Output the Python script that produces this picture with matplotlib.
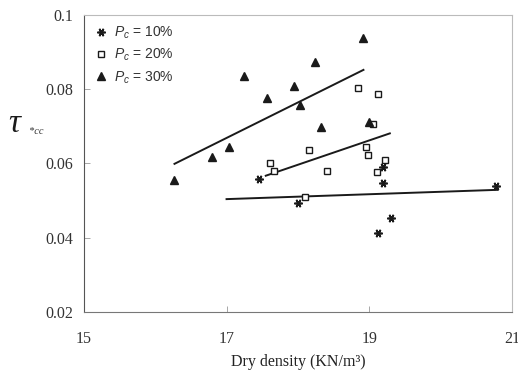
import matplotlib

matplotlib.use("Agg")
import matplotlib.pyplot as plt

# ── data ────────────────────────────────────────────────────────────────────
# Pc = 10 %
dens_10 = [17.46, 18.00, 19.12, 19.20, 19.20, 19.31, 20.78]
tau_10 = [0.0558, 0.0493, 0.0412, 0.0591, 0.0547, 0.0452, 0.0539]
trend_x_10 = [17.00, 20.80]
trend_y_10 = [0.0504, 0.0529]

# Pc = 20 %
dens_20 = [17.61, 17.66, 18.10, 18.16, 18.41, 18.85, 18.95, 18.99,
           19.06, 19.11, 19.13, 19.22]
tau_20 = [0.0602, 0.0579, 0.0509, 0.0636, 0.0580, 0.0802, 0.0643, 0.0623,
          0.0706, 0.0577, 0.0788, 0.0609]
trend_x_20 = [17.55, 19.29]
trend_y_20 = [0.0567, 0.0681]

# Pc = 30 %
dens_30 = [16.27, 16.79, 17.04, 17.24, 17.57, 17.94, 18.03, 18.24,
           18.33, 18.91, 19.00]
tau_30 = [0.0556, 0.0618, 0.0644, 0.0836, 0.0777, 0.0809, 0.0758, 0.0872,
          0.0698, 0.0937, 0.0711]
trend_x_30 = [16.27, 18.92]
trend_y_30 = [0.0599, 0.0852]

x_ticks = [15, 17, 19, 21]
y_ticks = [0.02, 0.04, 0.06, 0.08, 0.1]
y_tick_labels = ["0.02", "0.04", "0.06", "0.08", "0.1"]

# ── style ───────────────────────────────────────────────────────────────────
plt.rcParams["mathtext.fontset"] = "custom"
plt.rcParams["mathtext.rm"] = "Liberation Sans"
plt.rcParams["mathtext.it"] = "Liberation Sans:italic"
SERIF = "Liberation Serif"
INK = "#1a1a1a"

fig = plt.figure(figsize=(5.18, 3.73), dpi=100)
ax = fig.add_axes([0.162, 0.1635, 0.826, 0.7965])

# trend lines
for tx, ty in [(trend_x_10, trend_y_10), (trend_x_20, trend_y_20),
               (trend_x_30, trend_y_30)]:
    ax.plot(tx, ty, color=INK, linewidth=1.4, zorder=2)

h10, = ax.plot(dens_10, tau_10, linestyle="none", marker=(6, 2, 90),
               markersize=6, markeredgewidth=1.2, color=INK, zorder=3)
h20, = ax.plot(dens_20, tau_20, linestyle="none", marker="s", markersize=5,
               markerfacecolor="white", markeredgecolor=INK,
               markeredgewidth=1.0, zorder=3)
h30, = ax.plot(dens_30, tau_30, linestyle="none", marker="^", markersize=5.5,
               color=INK, zorder=3)

ax.set_xlim(15, 21)
ax.set_ylim(0.02, 0.1)
ax.set_xticks(x_ticks)
ax.set_yticks(y_ticks)
ax.set_yticklabels(y_tick_labels)
for lab in ax.get_xticklabels() + ax.get_yticklabels():
    lab.set_family(SERIF)
    lab.set_fontsize(11.5)
    lab.set_color("#333333")
ax.tick_params(direction="in", length=4, width=0.6, color="#999999",
               pad=8)
ax.tick_params(axis="x", pad=14)

ax.spines["left"].set_color("#555555")
ax.spines["bottom"].set_color("#777777")
ax.spines["top"].set_color("#bbbbbb")
ax.spines["right"].set_color("#bbbbbb")
for s in ax.spines.values():
    s.set_linewidth(0.8)

ax.set_xlabel("Dry density (KN/m³)", family=SERIF, fontsize=11.5,
              color="#222222", labelpad=4)
ax.xaxis.set_label_coords(0.5, -0.14)

# y label: tau with small "*cc" subscript
fig.text(0.016, 0.645, "τ", family=SERIF, style="italic", fontsize=24,
         color=INK)
fig.text(0.056, 0.640, "*cc", family=SERIF, style="italic", fontsize=7.5,
         color="#333333")

leg = ax.legend([h10, h20, h30],
                [r"$P_c$ = 10%", r"$P_c$ = 20%", r"$P_c$ = 30%"],
                loc="upper left", frameon=False,
                handletextpad=0.5, labelspacing=0.42, borderaxespad=0.4,
                handlelength=1.0, borderpad=0.3,
                prop={"family": "Liberation Sans", "size": 10})
for t in leg.get_texts():
    t.set_color("#333333")

fig.savefig("out.png", dpi=100)
